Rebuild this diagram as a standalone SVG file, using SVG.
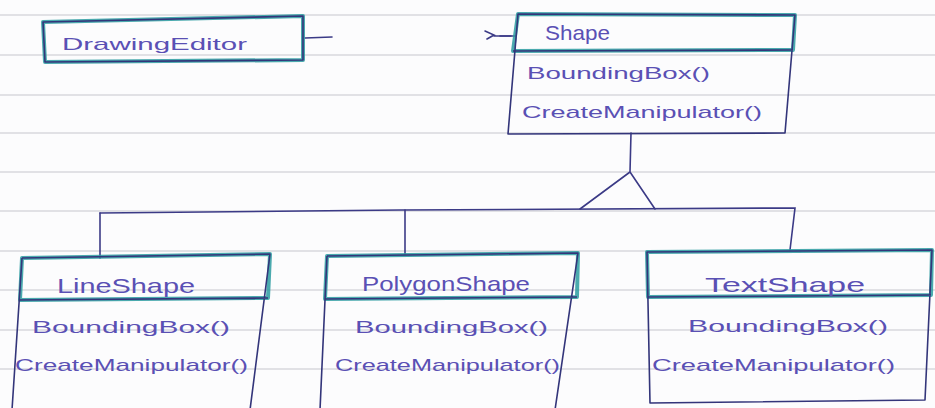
<svg xmlns="http://www.w3.org/2000/svg" width="935" height="408" viewBox="0 0 935 408">
<style>
.paper{stroke:#d9d9dc;stroke-width:1.4}
.box{fill:none;stroke:#33357a;stroke-width:1.6;stroke-linejoin:round}
.head{fill:none;stroke:#2a9ba0;stroke-width:4;stroke-linejoin:round;opacity:0.85}
.conn{fill:none;stroke:#3b3a86;stroke-width:1.6;stroke-linecap:round}
.t{font-family:"Liberation Sans",Arial,sans-serif;fill:#5a50b4;font-size:17px}
.tt{font-family:"Liberation Sans",Arial,sans-serif;fill:#5a50b4;font-size:21px}
</style>
<rect width="935" height="408" fill="#fcfcfd"/>
<g id="paper">
<line class="paper" x1="0" y1="15" x2="935" y2="15"/>
<line class="paper" x1="0" y1="55" x2="935" y2="55"/>
<line class="paper" x1="0" y1="95" x2="935" y2="95"/>
<line class="paper" x1="0" y1="133" x2="935" y2="133"/>
<line class="paper" x1="0" y1="172" x2="935" y2="172"/>
<line class="paper" x1="0" y1="211" x2="935" y2="211"/>
<line class="paper" x1="0" y1="251" x2="935" y2="251"/>
<line class="paper" x1="0" y1="290" x2="935" y2="290"/>
<line class="paper" x1="0" y1="330" x2="935" y2="330"/>
<line class="paper" x1="0" y1="369" x2="935" y2="369"/>
</g>
<g id="connectors">
<path class="conn" d="M305,38 L332,37"/>
<path class="conn" d="M485,31 L494,35 L487,39 M494,36 L515,36"/>
<path class="conn" d="M500,36 L511,36" stroke-width="4"/>
<path class="conn" d="M631,133 L630,172 M630,172 L580,209 M630,172 L655,209"/>
<path class="conn" d="M100,213 L400,210 L795,208 L790,250"/>
<path class="conn" d="M100,213 L100,258"/>
<path class="conn" d="M405,210 L405,254"/>
</g>
<g id="drawingEditor">
<path class="head" d="M43,22 L303,16 L303,60 L45,62 Z"/>
<path class="box" d="M43,22 L303,16 L303,60 L45,62 Z"/>
<text class="t" x="62" y="50" textLength="185" lengthAdjust="spacingAndGlyphs">DrawingEditor</text>
</g>
<g id="shape">
<path class="head" d="M518,14 L795,15 L793,50 L513,51 Z"/>
<path class="box" d="M518,14 L795,15 L785,133 L508,134 Z M513,51 L793,50"/>
<text class="tt" x="545" y="40" textLength="65" lengthAdjust="spacingAndGlyphs">Shape</text>
<text class="t" x="527" y="79" textLength="183" lengthAdjust="spacingAndGlyphs">BoundingBox()</text>
<text class="t" x="522" y="118" textLength="240" lengthAdjust="spacingAndGlyphs">CreateManipulator()</text>
</g>
<g id="lineShape">
<path class="head" d="M22,258 L270,254 L268,298 L20,300 Z"/>
<path class="box" d="M22,258 L270,254 L250,410 M22,258 L12,410 M20,300 L268,298"/>
<text class="tt" x="57" y="293" textLength="138" lengthAdjust="spacingAndGlyphs">LineShape</text>
<text class="t" x="32" y="333" textLength="198" lengthAdjust="spacingAndGlyphs">BoundingBox()</text>
<text class="t" x="15" y="371" textLength="233" lengthAdjust="spacingAndGlyphs">CreateManipulator()</text>
</g>
<g id="polygonShape">
<path class="head" d="M327,256 L578,253 L577,297 L325,299 Z"/>
<path class="box" d="M327,256 L578,253 L555,410 M327,256 L320,410 M325,299 L577,297"/>
<text class="tt" x="362" y="291" textLength="168" lengthAdjust="spacingAndGlyphs">PolygonShape</text>
<text class="t" x="355" y="333" textLength="193" lengthAdjust="spacingAndGlyphs">BoundingBox()</text>
<text class="t" x="335" y="371" textLength="225" lengthAdjust="spacingAndGlyphs">CreateManipulator()</text>
</g>
<g id="textShape">
<path class="head" d="M647,252 L932,250 L931,295 L648,297 Z"/>
<path class="box" d="M647,252 L932,250 L925,400 L650,403 Z M648,297 L931,295"/>
<text class="tt" x="705" y="292" textLength="160" lengthAdjust="spacingAndGlyphs">TextShape</text>
<text class="t" x="688" y="332" textLength="200" lengthAdjust="spacingAndGlyphs">BoundingBox()</text>
<text class="t" x="652" y="371" textLength="243" lengthAdjust="spacingAndGlyphs">CreateManipulator()</text>
</g>
</svg>
